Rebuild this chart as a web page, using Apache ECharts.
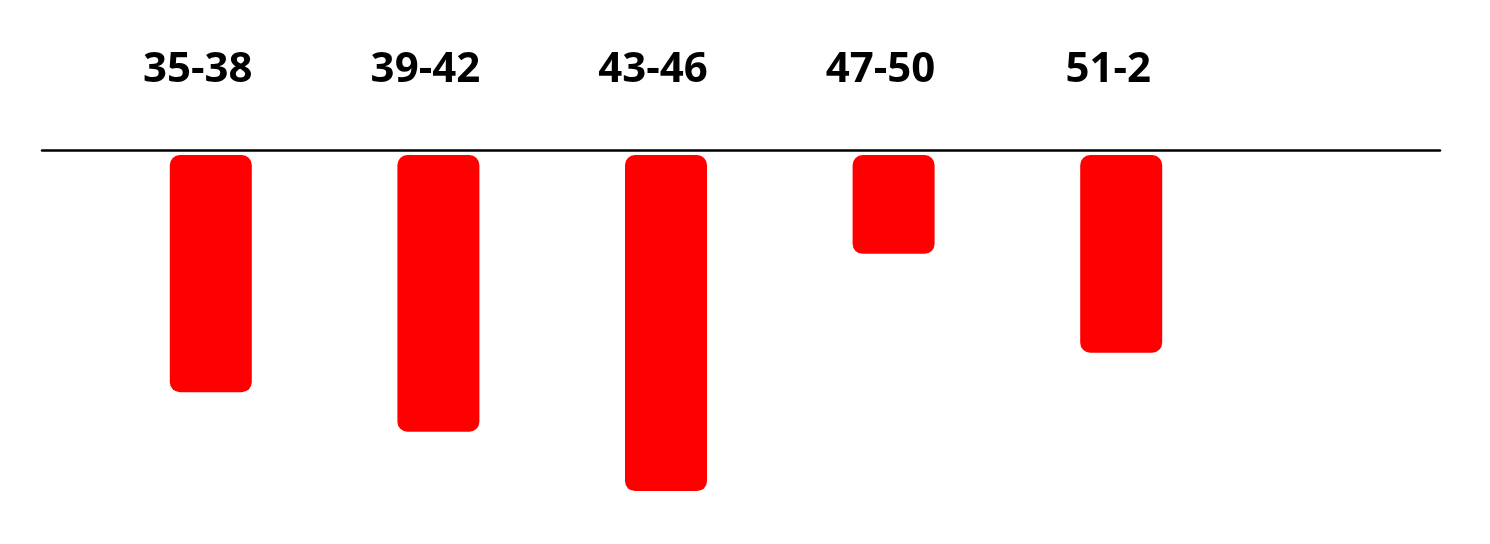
<!DOCTYPE html>
<html>
<head>
<meta charset="utf-8">
<script src="https://cdn.jsdelivr.net/npm/echarts@6/dist/echarts.min.js"></script>
<style>html,body{margin:0;padding:0;background:#fff;}#c{width:1490px;height:544px;}</style>
</head>
<body>
<div id="c"></div>
<script>
var categories = ['35-38', '39-42', '43-46', '47-50', '51-2'];
var values = [24, 28, 34, 10, 20];

var chart = echarts.init(document.getElementById('c'), null, {renderer: 'canvas'});
chart.setOption({
  animation: false,
  backgroundColor: '#ffffff',
  grid: [
    {left: 97, right: 255, top: 155, height: 346},
    {left: 42, right: 50, top: 150, height: 346}
  ],
  xAxis: [
    {
      gridIndex: 0,
      type: 'category',
      data: categories,
      position: 'top',
      axisLine: {show: false},
      axisTick: {show: false},
      axisLabel: {
        margin: 85,
        verticalAlign: 'middle',
        padding: [0, 26, 0, 0],
        color: '#000',
        fontFamily: 'Open Sans',
        fontWeight: 'bold',
        fontSize: 42
      }
    },
    {
      gridIndex: 1,
      type: 'value',
      position: 'top',
      axisLine: {show: true, onZero: false, lineStyle: {color: '#000', width: 2.5}},
      axisTick: {show: false},
      axisLabel: {show: false},
      splitLine: {show: false}
    }
  ],
  yAxis: [
    {
      gridIndex: 0,
      type: 'value',
      inverse: true,
      min: 0,
      max: 35,
      show: false,
      splitLine: {show: false}
    },
    {
      gridIndex: 1,
      type: 'value',
      show: false,
      splitLine: {show: false}
    }
  ],
  series: [
    {
      type: 'bar',
      xAxisIndex: 0,
      yAxisIndex: 0,
      data: values,
      barWidth: 82,
      itemStyle: {color: '#ff0000', borderRadius: 10}
    }
  ]
});
</script>
</body>
</html>
